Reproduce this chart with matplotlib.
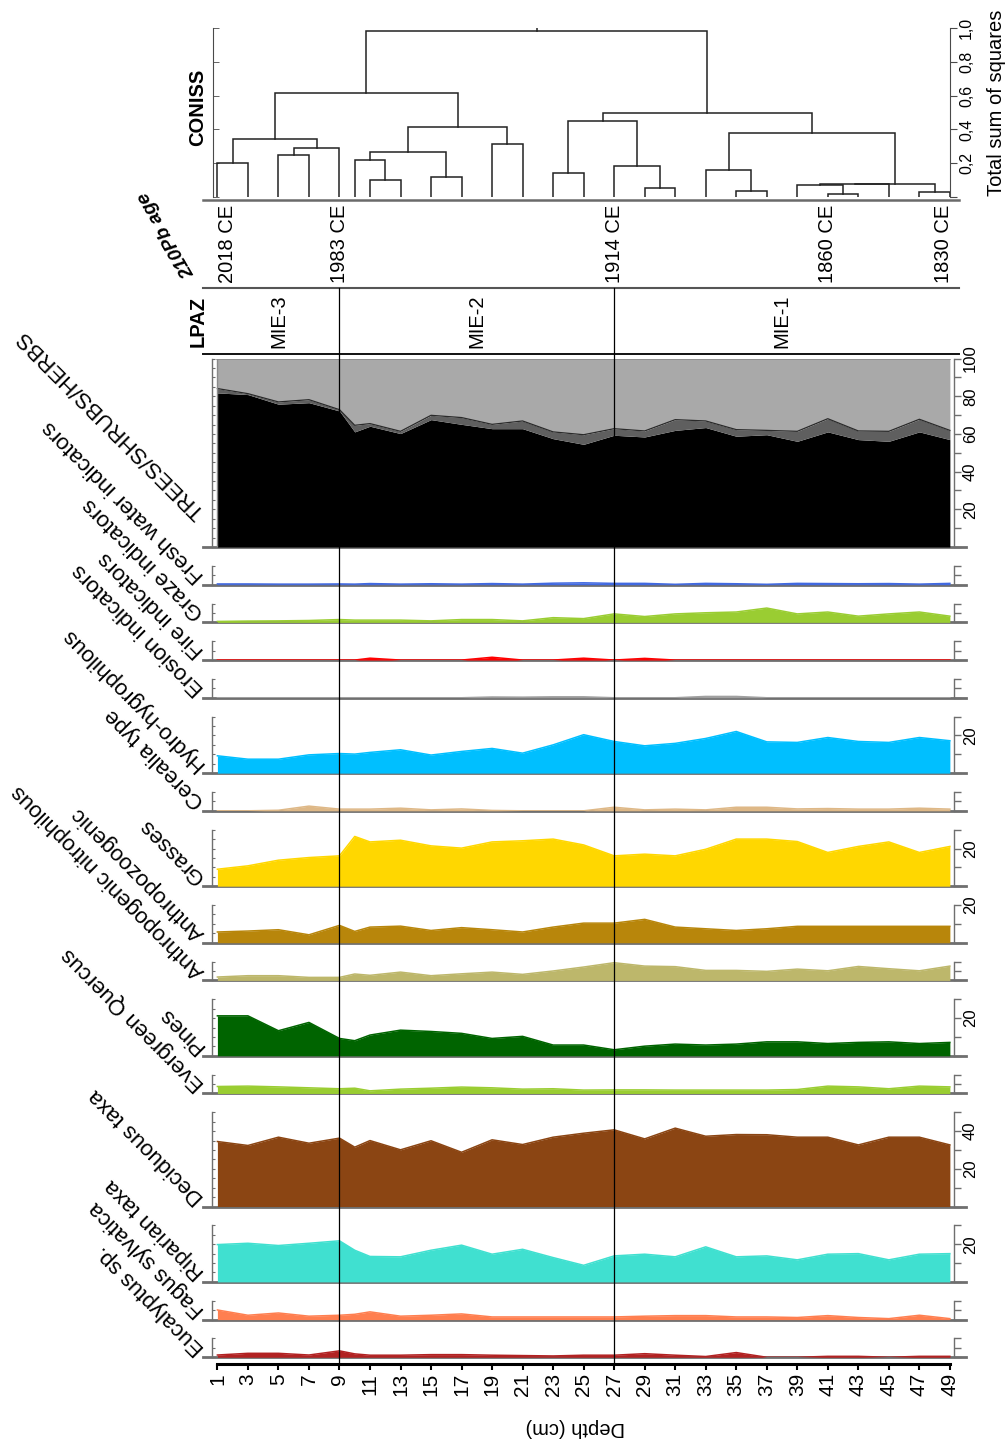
import numpy as np
import matplotlib
matplotlib.use("Agg")
import matplotlib.pyplot as plt
from matplotlib.lines import Line2D
from matplotlib.ticker import MultipleLocator, FuncFormatter, FixedLocator
import matplotlib.transforms as mtransforms

plt.rcParams['font.family'] = ['Liberation Sans', 'DejaVu Sans']

# ---------------------------------------------------------------- data
depths = [1, 3, 5, 7, 9, 10, 11, 13, 15, 17, 19, 21, 23, 25, 27, 29, 31, 33,
          35, 37, 39, 41, 43, 45, 47, 49]

trees = [81.8, 80.9, 75.8, 76.6, 72.2, 61.1, 64.1, 60.2, 67.6, 65.1, 62.8, 62.8,
         57.5, 54.5, 59.3, 58.4, 61.9, 63.4, 58.8, 59.6, 56.1, 61.1, 57.0, 56.1,
         61.1, 57.0]
shrubs = [2.3, 0.5, 1.2, 1.6, 0.7, 3.5, 1.4, 1.2, 2.3, 3.6, 2.3, 4.1, 3.6, 5.1,
          3.5, 3.2, 5.7, 3.5, 3.5, 2.3, 5.3, 7.0, 4.6, 5.3, 6.7, 4.9]

fresh_water = [0.4, 0.4, 0.3, 0.3, 0.4, 0.3, 0.6, 0.3, 0.5, 0.3, 0.6, 0.3, 0.8,
               1.0, 0.7, 0.7, 0.2, 0.7, 0.5, 0.2, 0.7, 0.6, 0.5, 0.6, 0.3, 0.7]
graze = [0.5, 0.7, 0.8, 1.0, 1.5, 1.2, 1.2, 1.2, 0.8, 1.5, 1.5, 0.8, 2.5, 2.0,
         4.5, 3.1, 4.5, 5.1, 5.5, 7.6, 4.5, 5.5, 3.3, 4.5, 5.5, 3.3]
fire = [0, 0, 0, 0, 0, 0, 1.0, 0, 0, 0, 1.5, 0, 0, 1.0, 0, 0.9, 0, 0, 0, 0, 0,
        0, 0, 0, 0, 0]
erosion = [0, 0, 0, 0, 0, 0, 0, 0, 0, 0, 0.4, 0.3, 0.5, 0.5, 0, 0, 0, 0.7, 0.7,
           0, 0, 0, 0, 0, 0, 0]
hydro = [9.2, 7.4, 7.4, 9.7, 10.4, 10.1, 11.0, 12.4, 9.6, 11.5, 13.1, 10.6,
         15.0, 20.4, 16.8, 14.5, 15.8, 18.4, 22.1, 16.6, 16.3, 18.9, 16.8, 16.3,
         18.9, 17.2]
cerealia = [0, 0, 0.3, 2.5, 0.9, 0.9, 0.9, 1.4, 0.5, 1.0, 0.2, 0, 0, 0, 1.9,
            0.5, 0.9, 0.5, 1.9, 1.9, 1.0, 1.2, 0.9, 0.9, 1.4, 0.9]
grasses = [9.0, 10.8, 13.8, 15.2, 16.1, 26.4, 23.5, 24.4, 21.4, 20.2, 23.5,
           24.1, 25.0, 21.9, 16.1, 17.0, 16.1, 19.6, 25.0, 25.0, 23.7, 17.9,
           21.1, 23.5, 17.9, 21.1]
anthropozoogenic = [5.7, 6.2, 6.9, 4.2, 9.2, 6.0, 8.3, 8.8, 6.5, 8.0, 6.9, 5.7,
                    8.3, 10.4, 10.4, 12.4, 8.3, 7.4, 6.5, 7.4, 8.7, 8.7, 8.7,
                    8.7, 8.7, 8.7]
nitrophilous = [1.8, 2.5, 2.5, 1.6, 1.6, 3.4, 2.7, 4.4, 2.5, 3.5, 4.4, 3.2, 5.0,
                7.1, 9.4, 7.6, 7.3, 5.3, 5.3, 4.8, 6.0, 5.1, 7.4, 6.2, 5.1, 7.6]
pines = [21.2, 21.2, 13.3, 17.7, 9.2, 8.0, 11.0, 13.6, 12.9, 11.9, 9.2, 10.3,
         5.7, 5.7, 3.2, 5.1, 6.2, 5.7, 6.2, 7.4, 7.4, 6.5, 7.1, 7.4, 6.5, 7.1]
evergreen_quercus = [3.7, 3.9, 3.5, 3.0, 2.5, 2.8, 1.4, 2.3, 2.8, 3.4, 3.0, 2.3,
                     2.5, 1.8, 1.9, 1.9, 1.8, 1.8, 1.8, 1.8, 2.1, 3.9, 3.5, 2.5,
                     3.9, 3.5]
deciduous = [34.5, 32.4, 36.8, 33.6, 36.3, 31.5, 35.0, 30.1, 34.9, 28.8, 35.4,
             32.9, 36.8, 38.9, 40.7, 35.9, 41.6, 37.3, 38.2, 38.1, 36.8, 36.8,
             32.7, 36.8, 36.8, 32.7]
riparian = [19.8, 20.5, 19.3, 20.5, 21.8, 16.8, 13.5, 13.3, 16.8, 19.5, 14.7,
            17.3, 12.9, 8.8, 13.8, 14.7, 13.3, 18.6, 13.3, 13.8, 11.7, 14.7,
            15.0, 11.7, 14.7, 15.0]
fagus = [5.1, 2.3, 3.5, 1.8, 2.3, 2.8, 4.1, 1.8, 2.3, 3.0, 1.4, 1.4, 1.4, 1.4,
         1.4, 1.8, 2.1, 2.1, 1.4, 1.4, 1.1, 2.1, 1.1, 0.5, 2.3, 0.5]
eucalyptus = [1.2, 2.1, 2.1, 1.2, 3.4, 1.8, 1.1, 1.1, 1.4, 1.4, 1.1, 0.9, 0.7,
              1.1, 1.1, 1.9, 1.1, 0.4, 2.5, 0, 0, 0.5, 0.5, 0, 0.5, 0.5]

# CONISS merges: (left, right, total sum of squares); ids >= 26 are clusters
coniss_merges = [
    (0, 1, 0.200), (2, 3, 0.247), (27, 4, 0.288), (26, 28, 0.345),
    (6, 7, 0.100), (5, 30, 0.219), (8, 9, 0.120), (31, 32, 0.264),
    (10, 11, 0.313), (33, 34, 0.412), (29, 35, 0.617),
    (12, 13, 0.140), (15, 16, 0.051), (14, 38, 0.185), (37, 39, 0.451),
    (18, 19, 0.037), (17, 41, 0.158), (21, 22, 0.016), (24, 25, 0.028),
    (20, 43, 0.071), (45, 23, 0.075), (46, 44, 0.077), (42, 47, 0.380),
    (40, 48, 0.499), (36, 49, 0.980),
]

zone_names = ['MIE-3', 'MIE-2', 'MIE-1']
zone_bounds = [1, 9, 27, 49]

age_labels = ['2018 CE', '1983 CE', '1914 CE', '1860 CE', '1830 CE']
age_depths = [1, 9, 27, 41, 49]

depth_ticks = list(range(1, 50, 2))

# ---------------------------------------------------------------- layout
W, H = 1008, 1441
fig = plt.figure(figsize=(W / 100, H / 100), dpi=100)


def fbox(x0, y0, x1, y1):
    return [x0 / W, 1 - y1 / H, (x1 - x0) / W, (y1 - y0) / H]


X_D1, PX_CM = 217.4, 15.26


def depth_x(d):
    return X_D1 + (d - 1) * PX_CM


def x_depth(x):
    return 1 + (x - X_D1) / PX_CM


AX_L, AX_R = 212, 954
XLIM = (x_depth(AX_L), x_depth(AX_R))
K = 1.884        # pixels per percent
GAP = 18.85
AXIS_GREY = '#6f6f6f'
LABEL_FS = 16

panels = [
    ('TREES/SHRUBS/HERBS', None, None, 100, [20, 40, 60, 80, 100]),
    ('Fresh water indicators', fresh_water, '#4169E1', 10, []),
    ('Graze indicators', graze, '#9ACD32', 10, []),
    ('Fire indicators', fire, '#FF0000', 10, []),
    ('Erosion indicators', erosion, '#A0A0A0', 10, []),
    ('Hydro-hygrophilous', hydro, '#00BFFF', 30, [20]),
    ('Cerealia type', cerealia, '#DEB887', 10, []),
    ('Grasses', grasses, '#FFD700', 30, [20]),
    ('Anthropozoogenic', anthropozoogenic, '#B8860B', 20, [20]),
    ('Anthropogenic nitrophilous', nitrophilous, '#BDB76B', 10, []),
    ('Pines', pines, '#006400', 30, [20]),
    ('Evergreen Quercus', evergreen_quercus, '#9ACD32', 10, []),
    ('Deciduous taxa', deciduous, '#8B4513', 50, [20, 40]),
    ('Riparian taxa', riparian, '#40E0D0', 30, [20]),
    ('Fagus sylvatica', fagus, '#FF7F50', 10, []),
    ('Eucalyptus sp.', eucalyptus, '#B22222', 10, []),
]

d_arr = np.array(depths, dtype=float)
y_top = 547 - 100 * K
for name, vals, color, vmax, labelled in panels:
    base = y_top + vmax * K
    ax = fig.add_axes(fbox(AX_L, y_top, AX_R, base))
    ax.set_xlim(XLIM)
    ax.set_ylim(0, vmax)
    ax.patch.set_visible(False)
    for s in ('top', 'bottom'):
        ax.spines[s].set_visible(False)
    for s in ('left', 'right'):
        ax.spines[s].set_color(AXIS_GREY)
        ax.spines[s].set_linewidth(1.0)
    ax.tick_params(axis='x', bottom=False, labelbottom=False)

    ax.yaxis.set_major_locator(MultipleLocator(10 if vmax > 10 else 5))
    ax.yaxis.set_minor_locator(MultipleLocator(5))
    ax.yaxis.remove_overlapping_locs = False
    ax.tick_params(axis='y', which='major', left=False, right=True,
                   labelleft=False, labelright=True, direction='out',
                   length=5, width=1, color=AXIS_GREY, labelsize=12,
                   labelrotation=90, pad=1.5)
    ax.tick_params(axis='y', which='minor', left=True, right=False,
                   direction='in', length=2.5, width=0.8, color=AXIS_GREY)
    ax.yaxis.set_major_formatter(FuncFormatter(
        lambda v, p, lab=tuple(labelled): f'{v:.0f}' if round(v) in lab else ''))
    for t in ax.get_yticklabels():
        t.set_verticalalignment('center')

    if vals is None:
        t_arr = np.array(trees)
        ts = t_arr + np.array(shrubs)
        ax.fill_between(d_arr, 0, t_arr, color='black', lw=0, zorder=2)
        ax.fill_between(d_arr, t_arr, ts, color='#5f5f5f', lw=0, zorder=2)
        ax.fill_between(d_arr, ts, 100, color='#a9a9a9', lw=0, zorder=2)
        ax.plot(d_arr, ts, color='#2a2a2a', lw=0.9, zorder=3)
        ax.plot([d_arr[0], d_arr[-1]], [100, 100], color='#8a8a8a', lw=1.2,
                zorder=3)
        ax.plot([d_arr[0]] * 2, [0, 100], color='#8a8a8a', lw=1, zorder=3)
        anchor_y = 511
    else:
        v = np.array(vals, dtype=float)
        ax.fill_between(d_arr, 0, v, color=color, lw=0, zorder=2)
        ax.plot(d_arr, v, color=color, lw=1.1, zorder=3,
                solid_joinstyle='round')
        anchor_y = base - 10

    trans = mtransforms.blended_transform_factory(ax.transAxes, ax.transData)
    ax.plot([-0.012, 1.016], [0, 0], color=AXIS_GREY, lw=2, transform=trans,
            clip_on=False, zorder=1.5)

    fig.text(205 / W, 1 - anchor_y / H, name, rotation=135,
             rotation_mode='anchor', ha='left', va='baseline',
             fontsize=LABEL_FS)
    y_top = base + GAP

# ---------------------------------------------------------------- depth axis
axd = fig.add_axes(fbox(AX_L, 1362, AX_R, 1364))
axd.set_xlim(XLIM)
axd.patch.set_visible(False)
for s in ('top', 'left', 'right'):
    axd.spines[s].set_visible(False)
axd.spines['bottom'].set_bounds(depths[0], depths[-1])
axd.spines['bottom'].set_linewidth(2.2)
axd.set_yticks([])
axd.xaxis.set_major_locator(FixedLocator(depth_ticks))
axd.tick_params(axis='x', direction='out', length=4.5, width=1.5,
                labelsize=15, labelrotation=90, pad=2)
fig.text(575 / W, 1 - 1428 / H, 'Depth (cm)', rotation=180, ha='center',
         va='center', fontsize=14.5)

# ---------------------------------------------------------------- CONISS
axc = fig.add_axes(fbox(213, 28, 950, 197))
axc.set_xlim(x_depth(213), x_depth(950))
axc.set_ylim(0, 1.0)
axc.patch.set_visible(False)
for s in ('top', 'bottom'):
    axc.spines[s].set_visible(False)
for s in ('left', 'right'):
    axc.spines[s].set_color('#4a4a4a')
axc.set_xticks([])
axc.yaxis.set_major_locator(MultipleLocator(0.2))
axc.yaxis.set_minor_locator(MultipleLocator(0.2))
axc.yaxis.remove_overlapping_locs = False
axc.tick_params(axis='y', which='major', left=False, right=True,
                labelleft=False, labelright=True, direction='out', length=5,
                color='#4a4a4a', labelsize=11.5, labelrotation=90, pad=1.5)
axc.tick_params(axis='y', which='minor', left=True, right=False,
                direction='in', length=4, color='#4a4a4a')
axc.yaxis.set_major_formatter(FuncFormatter(
    lambda v, p: '' if v < 0.05 else f'{v:.1f}'.replace('.', ',')))
for t in axc.get_yticklabels():
    t.set_verticalalignment('center')

n_leaf = len(depths)
pos = {i: float(d) for i, d in enumerate(depths)}
hgt = {i: 0.0 for i in range(n_leaf)}
for k, (a, b, h) in enumerate(coniss_merges):
    xa, xb = pos[a], pos[b]
    axc.plot([xa, xa, xb, xb], [hgt[a], h, h, hgt[b]], color='#222222',
             lw=1.1, solid_joinstyle='miter')
    pos[n_leaf + k] = (xa + xb) / 2
    hgt[n_leaf + k] = h
root = n_leaf + len(coniss_merges) - 1
axc.plot([pos[root]] * 2, [hgt[root], 1.0], color='#222222', lw=1.1)

fig.text(1 - 12 / W, 1 - 103 / H, 'Total sum of squares', rotation=90,
         ha='center', va='center', fontsize=14.5)
fig.text(198 / W, 1 - 107 / H, 'CONISS', rotation=90, ha='center',
         va='center', fontsize=14.5, fontweight='bold')

# ---------------------------------------------------------------- frame lines
for yy, col, lw in ((200, '#6a6a6a', 1.8), (288, '#555555', 1.5),
                    (354, '#111111', 1.4)):
    fig.add_artist(Line2D([203 / W, 959 / W], [1 - yy / H] * 2, color=col,
                          lw=lw))

for zb in zone_bounds[1:-1]:
    xx = depth_x(zb) / W
    fig.add_artist(Line2D([xx, xx], [1 - 288 / H, 1 - 1364 / H],
                          color='black', lw=0.9, zorder=10))

# zones
for name, z0, z1 in zip(zone_names, zone_bounds[:-1], zone_bounds[1:]):
    fig.text(depth_x((z0 + z1) / 2) / W, 1 - 321 / H, name, rotation=90,
             ha='center', va='center', fontsize=14.5)
fig.text(198 / W, 1 - 321 / H, 'LPAZ', rotation=90, ha='center',
         va='center', fontsize=14.5, fontweight='bold')

# 210Pb ages
for lab, d in zip(age_labels, age_depths):
    xx = depth_x(min(max(d, 1.65), 48.55))
    fig.text(xx / W, 1 - 205 / H, lab, rotation=90, ha='center', va='top',
             fontsize=14.5)
fig.text(167 / W, 1 - 234 / H, '210Pb age', rotation=120, ha='center',
         va='center', fontsize=14, fontweight='bold', fontstyle='italic',
         rotation_mode='anchor')

fig.savefig('out.png', dpi=100, facecolor='white')
